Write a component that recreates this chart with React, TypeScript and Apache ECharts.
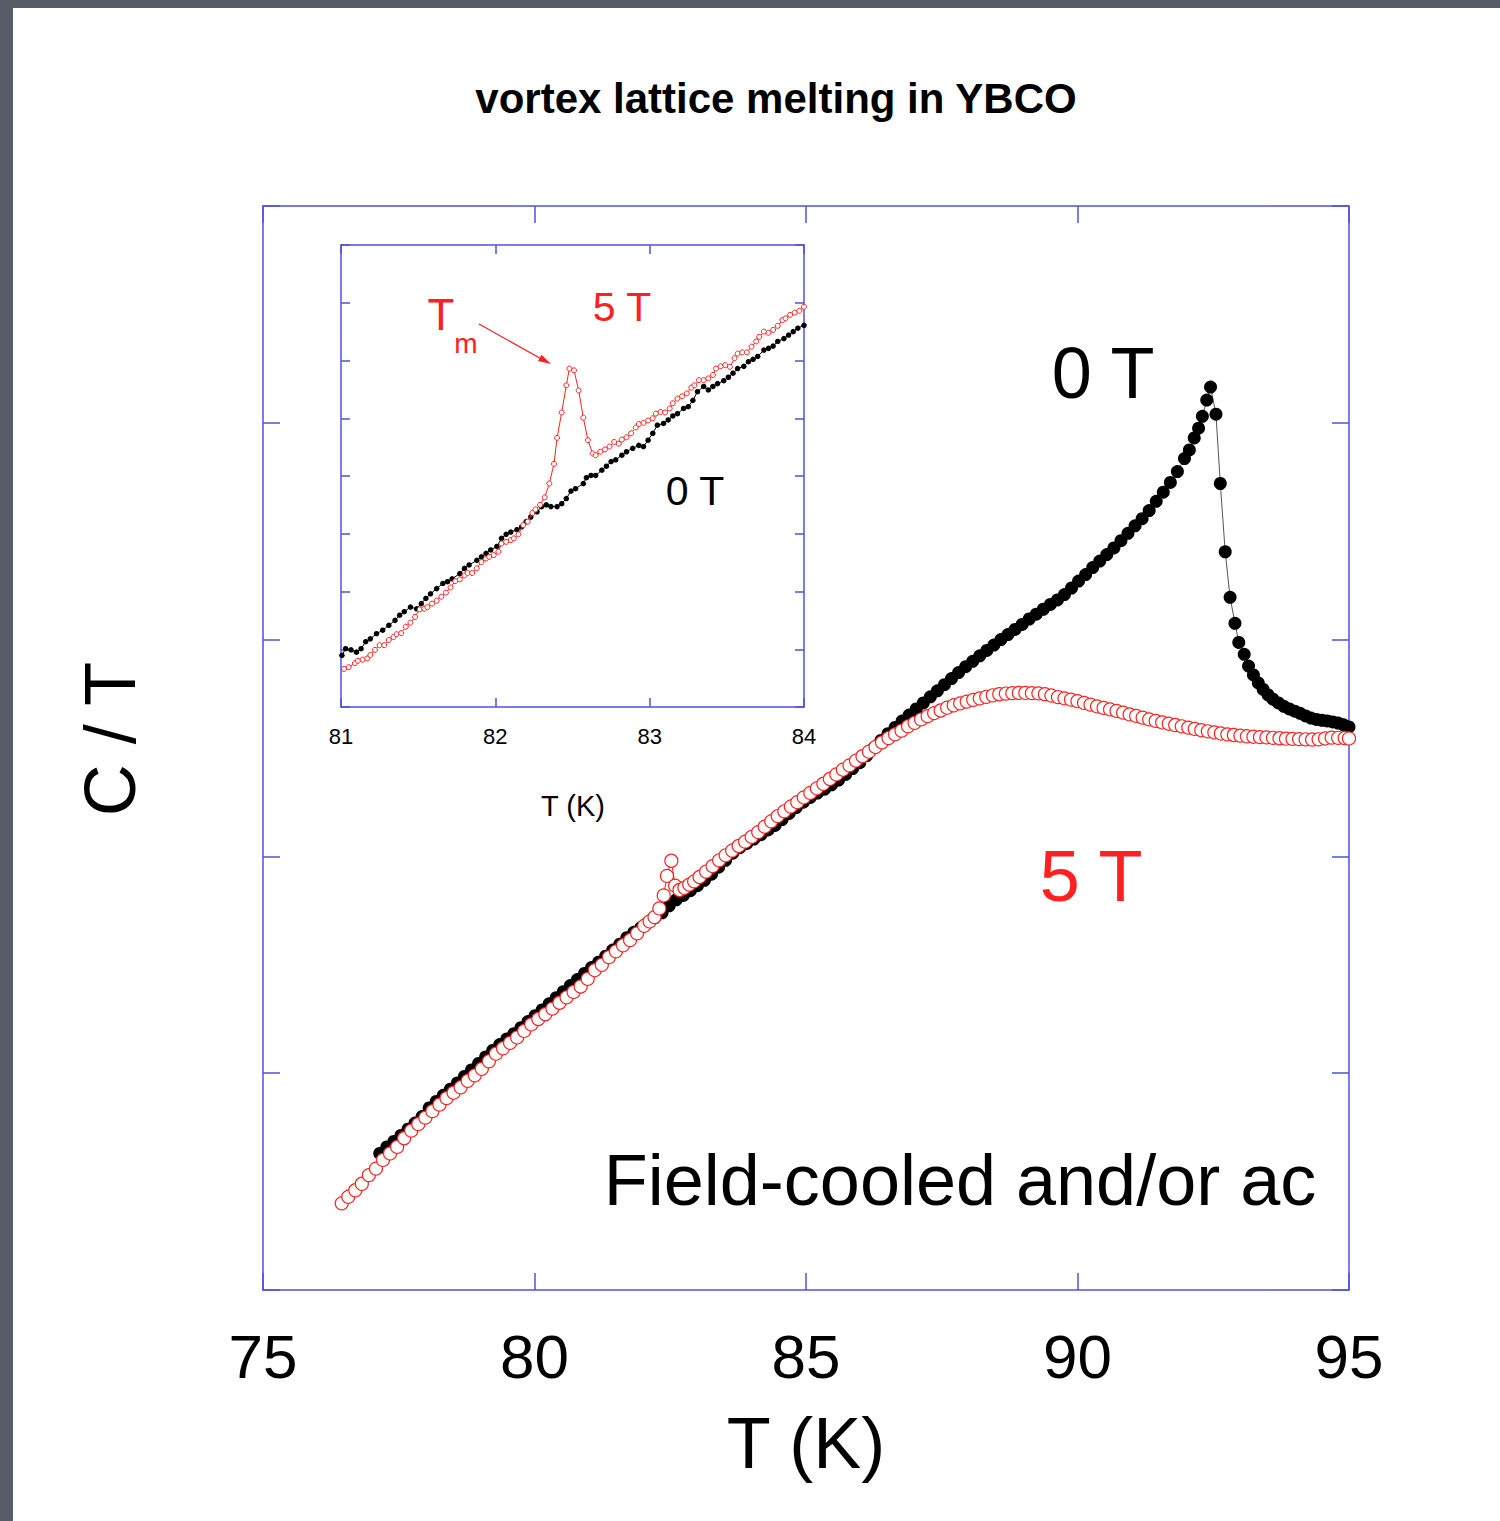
import React, { useEffect, useRef } from "react";
import * as echarts from "echarts";

// Main panel: C/T versus temperature (K), zero field and 5 T
const zeroFieldMain: [number, number][] = [
  [77.15, 0.63], [77.28, 0.66], [77.41, 0.685], [77.54, 0.713], [77.67, 0.742], [77.8, 0.77],
  [77.93, 0.8], [78.06, 0.84], [78.19, 0.87], [78.32, 0.898], [78.45, 0.926], [78.58, 0.955],
  [78.71, 0.985], [78.84, 1.015], [78.97, 1.045], [79.1, 1.075], [79.23, 1.105], [79.36, 1.132],
  [79.49, 1.158], [79.62, 1.182], [79.75, 1.21], [79.88, 1.238], [80.01, 1.265], [80.14, 1.292],
  [80.27, 1.32], [80.4, 1.348], [80.53, 1.376], [80.66, 1.404], [80.79, 1.432], [80.92, 1.46],
  [81.05, 1.487], [81.18, 1.512], [81.31, 1.54], [81.44, 1.568], [81.57, 1.595], [81.7, 1.625],
  [81.83, 1.65], [81.96, 1.672], [82.09, 1.695], [82.22, 1.718], [82.35, 1.74], [82.48, 1.772],
  [82.61, 1.8], [82.74, 1.82], [82.87, 1.842], [83.0, 1.865], [83.13, 1.89], [83.26, 1.918],
  [83.39, 1.95], [83.52, 1.982], [83.65, 2.015], [83.78, 2.04], [83.91, 2.06], [84.04, 2.08],
  [84.17, 2.1], [84.3, 2.122], [84.43, 2.143], [84.56, 2.17], [84.69, 2.198], [84.82, 2.225],
  [84.95, 2.25], [85.08, 2.272], [85.21, 2.292], [85.34, 2.31], [85.47, 2.33], [85.6, 2.352],
  [85.73, 2.378], [85.86, 2.405], [85.99, 2.432], [86.12, 2.465], [86.25, 2.5], [86.38, 2.535],
  [86.51, 2.566], [86.64, 2.595], [86.77, 2.624], [86.9, 2.652], [87.03, 2.68], [87.16, 2.708],
  [87.29, 2.736], [87.42, 2.764], [87.55, 2.792], [87.68, 2.82], [87.81, 2.848], [87.94, 2.875],
  [88.07, 2.9], [88.2, 2.925], [88.33, 2.95], [88.46, 2.975], [88.59, 3.0], [88.72, 3.023],
  [88.85, 3.047], [88.98, 3.07], [89.11, 3.095], [89.24, 3.117], [89.37, 3.14], [89.5, 3.162],
  [89.63, 3.183], [89.76, 3.208], [89.89, 3.238], [90.02, 3.27], [90.15, 3.3], [90.28, 3.332],
  [90.41, 3.362], [90.54, 3.392], [90.67, 3.423], [90.8, 3.456], [90.93, 3.49], [91.06, 3.525],
  [91.19, 3.558], [91.32, 3.595], [91.45, 3.638], [91.58, 3.68], [91.71, 3.725], [91.84, 3.775],
  [91.97, 3.835], [92.06, 3.875], [92.15, 3.93], [92.23, 3.975], [92.3, 4.03], [92.38, 4.105],
  [92.45, 4.165], [92.55, 4.04], [92.63, 3.72], [92.72, 3.405], [92.81, 3.195], [92.9, 3.075],
  [92.97, 2.987], [93.07, 2.932], [93.15, 2.878], [93.24, 2.837], [93.33, 2.8], [93.42, 2.77],
  [93.51, 2.745], [93.6, 2.725], [93.7, 2.708], [93.8, 2.692], [93.9, 2.68], [94.0, 2.67],
  [94.1, 2.66], [94.2, 2.648], [94.3, 2.638], [94.4, 2.632], [94.5, 2.628], [94.6, 2.625],
  [94.7, 2.62], [94.8, 2.615], [94.9, 2.607], [95.0, 2.597],
];

const fiveTeslaMain: [number, number][] = [
  [76.45, 0.4], [76.57, 0.43], [76.7, 0.46], [76.82, 0.49], [76.95, 0.53], [77.08, 0.56],
  [77.21, 0.6], [77.34, 0.63], [77.47, 0.66], [77.6, 0.7], [77.73, 0.735], [77.86, 0.765],
  [77.99, 0.795], [78.12, 0.825], [78.25, 0.855], [78.38, 0.885], [78.51, 0.91], [78.64, 0.935],
  [78.77, 0.965], [78.9, 0.99], [79.03, 1.02], [79.16, 1.055], [79.29, 1.09], [79.42, 1.115],
  [79.55, 1.14], [79.68, 1.165], [79.81, 1.195], [79.94, 1.225], [80.07, 1.25], [80.2, 1.272],
  [80.33, 1.298], [80.46, 1.325], [80.59, 1.35], [80.72, 1.375], [80.85, 1.4], [80.98, 1.435],
  [81.11, 1.475], [81.24, 1.5], [81.37, 1.535], [81.5, 1.562], [81.63, 1.59], [81.76, 1.614],
  [81.89, 1.645], [82.02, 1.68], [82.12, 1.7], [82.21, 1.72], [82.3, 1.76], [82.38, 1.82],
  [82.44, 1.91], [82.52, 1.98], [82.59, 1.865], [82.67, 1.845], [82.76, 1.855], [82.85, 1.87],
  [82.94, 1.885], [83.04, 1.905], [83.16, 1.93], [83.28, 1.955], [83.4, 1.982], [83.52, 2.005],
  [83.64, 2.027], [83.76, 2.048], [83.88, 2.068], [84.0, 2.09], [84.12, 2.112], [84.24, 2.137],
  [84.36, 2.162], [84.48, 2.186], [84.6, 2.208], [84.72, 2.23], [84.84, 2.25], [84.96, 2.272],
  [85.08, 2.293], [85.2, 2.314], [85.32, 2.335], [85.44, 2.357], [85.56, 2.378], [85.68, 2.4],
  [85.8, 2.42], [85.92, 2.442], [86.04, 2.462], [86.16, 2.483], [86.28, 2.505], [86.4, 2.526],
  [86.52, 2.546], [86.64, 2.563], [86.76, 2.58], [86.88, 2.6], [87.0, 2.616], [87.12, 2.632],
  [87.24, 2.647], [87.36, 2.661], [87.48, 2.673], [87.6, 2.686], [87.72, 2.697], [87.84, 2.706],
  [87.96, 2.714], [88.08, 2.722], [88.2, 2.729], [88.32, 2.736], [88.44, 2.743], [88.56, 2.748],
  [88.68, 2.751], [88.8, 2.753], [88.92, 2.754], [89.04, 2.754], [89.16, 2.753], [89.28, 2.752],
  [89.4, 2.748], [89.52, 2.742], [89.64, 2.735], [89.76, 2.729], [89.88, 2.723], [90.0, 2.716],
  [90.12, 2.708], [90.24, 2.7], [90.36, 2.692], [90.48, 2.685], [90.6, 2.678], [90.72, 2.671],
  [90.84, 2.663], [90.96, 2.655], [91.08, 2.648], [91.2, 2.64], [91.32, 2.632], [91.44, 2.625],
  [91.56, 2.618], [91.68, 2.612], [91.8, 2.606], [91.92, 2.6], [92.04, 2.594], [92.16, 2.588],
  [92.28, 2.582], [92.4, 2.577], [92.52, 2.572], [92.64, 2.567], [92.76, 2.563], [92.88, 2.56],
  [93.0, 2.557], [93.12, 2.554], [93.24, 2.552], [93.36, 2.55], [93.48, 2.549], [93.6, 2.547],
  [93.72, 2.545], [93.84, 2.543], [93.96, 2.542], [94.08, 2.541], [94.2, 2.54], [94.32, 2.539],
  [94.44, 2.54], [94.56, 2.544], [94.68, 2.548], [94.8, 2.547], [94.92, 2.546], [95.0, 2.544],
];

// Inset: close-up of 81–84 K
const zeroFieldInset: [number, number][] = [
  [81.006, 0.895], [81.03, 1.01], [81.065, 0.99], [81.1, 0.95], [81.13, 1.01], [81.16, 1.13],
  [81.19, 1.18], [81.23, 1.27], [81.27, 1.33], [81.31, 1.415], [81.35, 1.5], [81.38, 1.59],
  [81.41, 1.65], [81.45, 1.73], [81.49, 1.7], [81.52, 1.79], [81.55, 1.88], [81.58, 1.96],
  [81.62, 2.05], [81.66, 2.14], [81.69, 2.17], [81.72, 2.22], [81.77, 2.31], [81.8, 2.4],
  [81.83, 2.46], [81.88, 2.54], [81.91, 2.6], [81.94, 2.66], [81.97, 2.72], [82.01, 2.78],
  [82.04, 2.92], [82.07, 2.99], [82.1, 3.03], [82.14, 3.07], [82.17, 3.12], [82.2, 3.21],
  [82.23, 3.29], [82.27, 3.38], [82.3, 3.47], [82.33, 3.5], [82.36, 3.47], [82.4, 3.47],
  [82.43, 3.52], [82.46, 3.61], [82.49, 3.74], [82.52, 3.78], [82.57, 3.87], [82.59, 3.97],
  [82.62, 4.01], [82.65, 4.01], [82.69, 4.1], [82.72, 4.17], [82.75, 4.25], [82.78, 4.28],
  [82.82, 4.36], [82.85, 4.42], [82.89, 4.48], [82.93, 4.53], [82.96, 4.51], [82.99, 4.62],
  [83.02, 4.74], [83.05, 4.88], [83.09, 4.91], [83.12, 4.97], [83.15, 5.04], [83.18, 5.08],
  [83.22, 5.17], [83.25, 5.2], [83.28, 5.31], [83.31, 5.46], [83.35, 5.55], [83.38, 5.49],
  [83.41, 5.55], [83.44, 5.6], [83.48, 5.65], [83.51, 5.71], [83.54, 5.78], [83.57, 5.86],
  [83.61, 5.9], [83.64, 5.98], [83.67, 6.02], [83.7, 6.07], [83.74, 6.18], [83.77, 6.21],
  [83.8, 6.25], [83.83, 6.33], [83.87, 6.38], [83.9, 6.44], [83.93, 6.5], [83.96, 6.56],
  [84.0, 6.61],
];

const fiveTeslaInset: [number, number][] = [
  [81.02, 0.66], [81.05, 0.69], [81.09, 0.76], [81.11, 0.8], [81.14, 0.82], [81.17, 0.84],
  [81.19, 0.9], [81.22, 0.99], [81.25, 1.07], [81.28, 1.07], [81.31, 1.16], [81.34, 1.21],
  [81.36, 1.26], [81.39, 1.28], [81.42, 1.39], [81.45, 1.46], [81.48, 1.56], [81.51, 1.69],
  [81.54, 1.7], [81.56, 1.73], [81.59, 1.79], [81.62, 1.84], [81.65, 1.91], [81.68, 1.98],
  [81.71, 2.07], [81.74, 2.18], [81.77, 2.21], [81.8, 2.28], [81.82, 2.32], [81.85, 2.32],
  [81.88, 2.4], [81.91, 2.51], [81.94, 2.57], [81.96, 2.6], [81.99, 2.63], [82.02, 2.69],
  [82.04, 2.83], [82.07, 2.86], [82.1, 2.89], [82.12, 2.92], [82.15, 2.99], [82.18, 3.15],
  [82.21, 3.21], [82.24, 3.36], [82.26, 3.42], [82.29, 3.5], [82.32, 3.63], [82.35, 3.87],
  [82.38, 4.21], [82.4, 4.66], [82.43, 5.1], [82.46, 5.57], [82.48, 5.86], [82.51, 5.83],
  [82.54, 5.48], [82.57, 5.01], [82.6, 4.62], [82.63, 4.39], [82.65, 4.36], [82.68, 4.42],
  [82.71, 4.46], [82.74, 4.51], [82.77, 4.59], [82.8, 4.56], [82.82, 4.63], [82.85, 4.67],
  [82.88, 4.74], [82.91, 4.84], [82.93, 4.9], [82.96, 4.92], [82.99, 4.96], [83.02, 5.0],
  [83.04, 5.08], [83.07, 5.11], [83.1, 5.1], [83.13, 5.17], [83.15, 5.26], [83.18, 5.34],
  [83.21, 5.38], [83.24, 5.43], [83.27, 5.53], [83.29, 5.57], [83.32, 5.66], [83.35, 5.66],
  [83.38, 5.69], [83.41, 5.75], [83.43, 5.86], [83.46, 5.9], [83.49, 5.92], [83.52, 5.89],
  [83.55, 6.04], [83.57, 6.12], [83.6, 6.14], [83.63, 6.14], [83.66, 6.24], [83.69, 6.33],
  [83.71, 6.41], [83.74, 6.5], [83.77, 6.48], [83.8, 6.53], [83.83, 6.6], [83.86, 6.7],
  [83.88, 6.73], [83.91, 6.79], [83.94, 6.83], [83.97, 6.86], [84.0, 6.93],
];

// Axis ranges and tick steps
const mainXRange = { min: 75, max: 95, step: 5 };
const mainYRange = { min: 0, max: 5, step: 1 };
const insetXRange = { min: 81, max: 84, step: 1 };
const insetYRange = { min: 0, max: 8, step: 1 };

const FRAME = "#5050dc";
const RED = "#ff2020";
const FONT = '"Liberation Sans", Arial, sans-serif';

function frameAxis(range: { min: number; max: number; step: number }, gridIndex: number, position: string, tickLen: number, label: any) {
  return {
    type: "value",
    gridIndex,
    position,
    min: range.min,
    max: range.max,
    interval: range.step,
    axisLine: { show: true, onZero: false, lineStyle: { color: FRAME, width: 1.5 } },
    axisTick: { show: true, inside: true, length: tickLen, lineStyle: { color: FRAME, width: 1.5 } },
    axisLabel: label,
    splitLine: { show: false },
  };
}

function txt(text: string, x: number, y: number, size: number, fill = "#000", extra: any = {}) {
  return {
    type: "text",
    x,
    y,
    z: 20,
    ...extra,
    style: {
      text,
      fill,
      font: `${extra.bold ? "bold " : ""}${size}px ${FONT}`,
      align: "center",
      verticalAlign: "middle",
    },
  };
}

export default function App() {
  const ref = useRef<HTMLDivElement>(null);

  useEffect(() => {
    if (!ref.current) return;
    const chart = echarts.init(ref.current, undefined, { renderer: "svg" });

    const mainLabel = { show: true, color: "#000", fontSize: 62, fontFamily: FONT, margin: 35 };
    const insetLabel = { show: true, color: "#000", fontSize: 22, fontFamily: FONT, margin: 18 };
    const off = { show: false };

    chart.setOption({
      animation: false,
      backgroundColor: "#ffffff",
      grid: [
        { left: 263, top: 206, width: 1086, height: 1084, containLabel: false },
        { left: 341, top: 245, width: 463, height: 462, containLabel: false, show: true, backgroundColor: "#fff", borderWidth: 0, z: 5 },
      ],
      xAxis: [
        frameAxis(mainXRange, 0, "bottom", 17, mainLabel),
        frameAxis(mainXRange, 0, "top", 17, off),
        { ...frameAxis(insetXRange, 1, "bottom", 9, insetLabel), z: 6 },
        { ...frameAxis(insetXRange, 1, "top", 9, off), z: 6 },
      ],
      yAxis: [
        frameAxis(mainYRange, 0, "left", 17, off),
        frameAxis(mainYRange, 0, "right", 17, off),
        { ...frameAxis(insetYRange, 1, "left", 9, off), z: 6 },
        { ...frameAxis(insetYRange, 1, "right", 9, off), z: 6 },
      ],
      series: [
        {
          name: "0 T",
          type: "line",
          xAxisIndex: 0,
          yAxisIndex: 0,
          data: zeroFieldMain,
          symbol: "circle",
          symbolSize: 13,
          itemStyle: { color: "#000" },
          lineStyle: { color: "#555", width: 1 },
          clip: false,
          z: 3,
        },
        {
          name: "5 T",
          type: "line",
          xAxisIndex: 0,
          yAxisIndex: 0,
          data: fiveTeslaMain,
          symbol: "circle",
          symbolSize: 13,
          itemStyle: { color: "#fff", borderColor: RED, borderWidth: 1.2 },
          lineStyle: { color: RED, width: 1 },
          clip: false,
          z: 4,
        },
        {
          name: "0 T inset",
          type: "line",
          xAxisIndex: 2,
          yAxisIndex: 2,
          data: zeroFieldInset,
          symbol: "circle",
          symbolSize: 5.5,
          itemStyle: { color: "#000" },
          lineStyle: { color: "#000", width: 1 },
          clip: false,
          z: 7,
        },
        {
          name: "5 T inset",
          type: "line",
          xAxisIndex: 2,
          yAxisIndex: 2,
          data: fiveTeslaInset,
          symbol: "circle",
          symbolSize: 5,
          itemStyle: { color: "#fff", borderColor: RED, borderWidth: 1 },
          lineStyle: { color: RED, width: 1 },
          clip: false,
          z: 8,
        },
      ],
      graphic: [
        { type: "rect", shape: { x: 0, y: 0, width: 13, height: 1521 }, style: { fill: "#585c68" }, z: 30 },
        { type: "rect", shape: { x: 0, y: 0, width: 1500, height: 8 }, style: { fill: "#585c68" }, z: 30 },
        txt("vortex lattice melting in YBCO", 776, 98, 42, "#000", { bold: true }),
        txt("C / T", 110, 739, 72, "#000", { rotation: Math.PI / 2 }),
        txt("T (K)", 806, 1443, 72),
        txt("0 T", 1103, 373, 72),
        txt("5 T", 1091, 876, 72, RED),
        txt("Field-cooled and/or ac", 960, 1180, 72),
        txt("T (K)", 573, 806, 29),
        txt("5 T", 622, 307, 41, RED),
        txt("0 T", 695, 491, 41),
        txt("T", 441, 314, 44, RED),
        txt("m", 466, 343, 28, RED),
        {
          type: "line",
          z: 20,
          shape: { x1: 479, y1: 324, x2: 545, y2: 361 },
          style: { stroke: RED, lineWidth: 1.3 },
        },
        {
          type: "polygon",
          z: 20,
          shape: { points: [[551, 364], [538, 361], [541.5, 354.8]] },
          style: { fill: RED },
        },
      ],
    });

    return () => chart.dispose();
  }, []);

  return (
    <div
      ref={ref}
      style={{ position: "absolute", left: 0, top: 0, width: 1500, height: 1521 }}
    />
  );
}
